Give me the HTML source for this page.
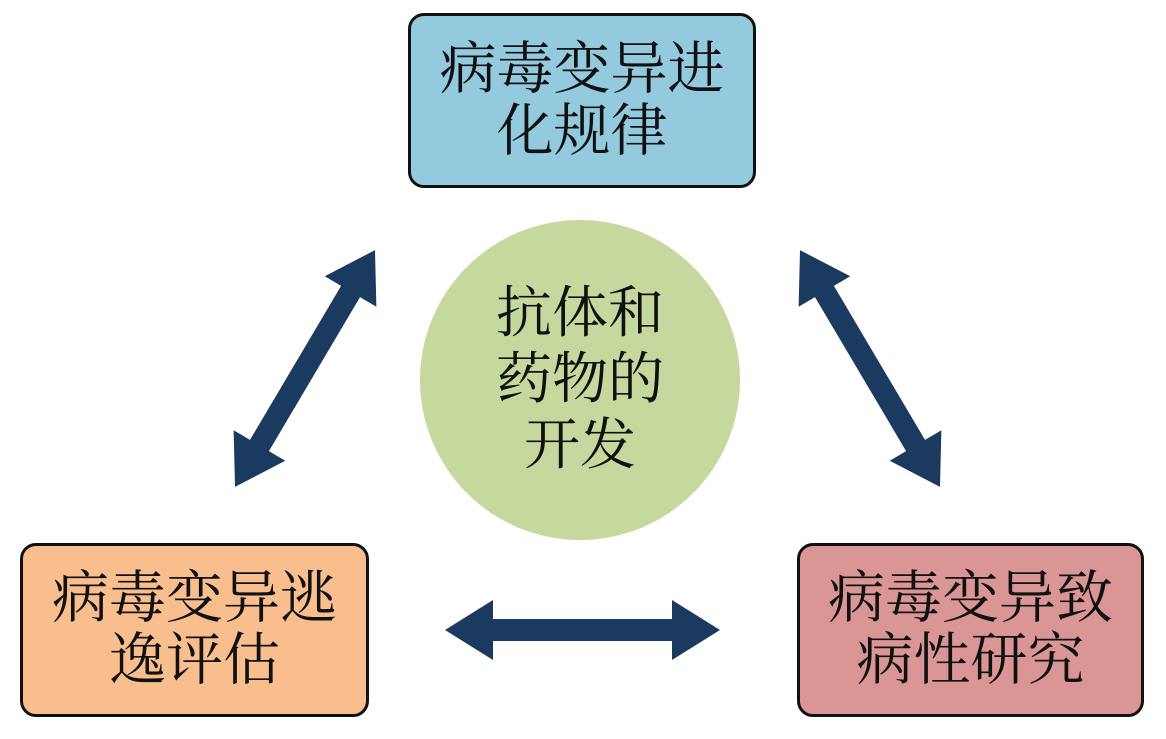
<!DOCTYPE html>
<html><head><meta charset="utf-8"><style>
body{margin:0;width:1166px;height:739px;background:#fff;overflow:hidden;position:relative;font-family:"Liberation Serif","Noto Serif CJK SC",serif;}
.box{position:absolute;box-sizing:border-box;border:3px solid #111;border-radius:16px;display:flex;align-items:center;justify-content:center;text-align:center;font-size:57px;line-height:62px;color:#111;}
.c{position:absolute;left:420px;top:220px;width:320px;height:320px;border-radius:50%;background:#c5d89d;display:flex;align-items:center;justify-content:center;text-align:center;font-size:56px;line-height:66px;color:#111;}
svg{position:absolute;left:0;top:0;}
</style></head><body>
<svg width="1166" height="739">
<defs><polygon id="a" fill="#1b3a5f" points="-137.5,0 -89.5,-30 -89.5,-11 89.5,-11 89.5,-30 137.5,0 89.5,30 89.5,11 -89.5,11 -89.5,30"/></defs>
<use href="#a" transform="translate(582.5,630)"/>
<use href="#a" transform="translate(305,368.5) rotate(-59.4)"/>
<use href="#a" transform="translate(870,368.5) rotate(59.4)"/>
</svg>
<div class="box" style="left:408px;top:13px;width:348px;height:175px;background:#93cadd;">病毒变异进<br>化规律</div>
<div class="box" style="left:20px;top:543px;width:349px;height:174px;background:#f9be8e;">病毒变异逃<br>逸评估</div>
<div class="box" style="left:797px;top:543px;width:347px;height:174px;background:#d99694;">病毒变异致<br>病性研究</div>
<div class="c">抗体和<br>药物的<br>开发</div>
</body></html>
